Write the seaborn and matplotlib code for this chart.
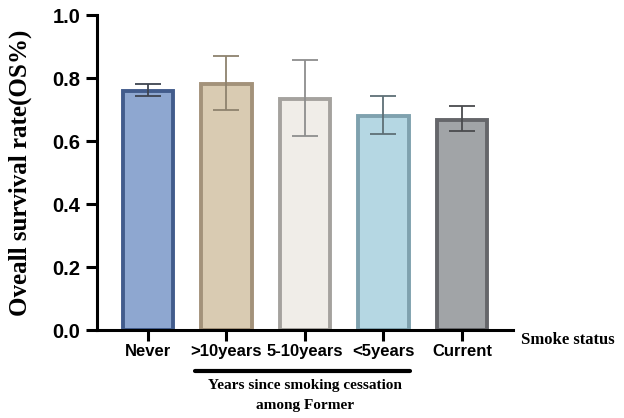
import matplotlib
matplotlib.use("Agg")
import matplotlib.pyplot as plt
import matplotlib.transforms as mtransforms
import seaborn as sns
import pandas as pd
import numpy as np

categories = ["Never", ">10years", "5-10years", "<5years", "Current"]
os_rate = [0.760, 0.782, 0.733, 0.678, 0.667]
ci_low = [0.742, 0.699, 0.617, 0.621, 0.632]
ci_high = [0.781, 0.870, 0.858, 0.742, 0.711]
yticks = [0.0, 0.2, 0.4, 0.6, 0.8, 1.0]

fill_colors = ["#8EA7D0", "#D9CBB2", "#F0EDE8", "#B5D7E3", "#A1A4A7"]
edge_colors = ["#425C8C", "#A3927A", "#A5A29E", "#7FA1AE", "#65666A"]
err_colors = ["#3E4450", "#8E826E", "#8E8E8E", "#5E6F76", "#4A4B4E"]

df = pd.DataFrame({"status": categories, "rate": os_rate})

sns.set_style("white")
plt.rcParams["font.family"] = ["Liberation Sans", "DejaVu Sans"]
plt.rcParams["text.color"] = "black"
plt.rcParams["axes.labelcolor"] = "black"
plt.rcParams["xtick.color"] = "black"
plt.rcParams["ytick.color"] = "black"

fig = plt.figure(figsize=(6.24, 4.18), dpi=100)
ax = fig.add_axes([0.1554, 0.2105, 0.6667, 0.7536])

sns.barplot(data=df, x="status", y="rate", hue="status", palette=fill_colors,
            order=categories, hue_order=categories, legend=False, width=0.64,
            ax=ax, saturation=1, zorder=2)

for patch, ec in zip(ax.patches, edge_colors):
    patch.set_edgecolor(ec)
    patch.set_linewidth(2.8)

xpos = np.arange(len(categories))
for i in range(len(categories)):
    lo = os_rate[i] - ci_low[i]
    hi = ci_high[i] - os_rate[i]
    ax.errorbar(xpos[i], os_rate[i], yerr=[[lo], [hi]], fmt="none",
                ecolor=err_colors[i], elinewidth=1.3, capsize=9.5,
                capthick=1.3, zorder=3)

ax.set_xlim(-0.65, len(categories) - 1 + 0.65)
ax.set_ylim(0, 1.0)
ax.set_yticks(yticks)
ax.set_yticklabels([f"{v:.1f}" for v in yticks])

for s in ["top", "right"]:
    ax.spines[s].set_visible(False)
for s in ["left", "bottom"]:
    ax.spines[s].set_linewidth(2.2)
    ax.spines[s].set_color("black")

ax.tick_params(axis="both", which="major", length=8, width=2.2, colors="black",
               direction="out", left=True, bottom=True)
ax.tick_params(axis="y", labelsize=14.5, pad=4)
ax.tick_params(axis="x", labelsize=12, pad=2)
for lab in ax.get_yticklabels() + ax.get_xticklabels():
    lab.set_fontweight("bold")
    lab.set_fontfamily(["Liberation Sans", "DejaVu Sans"])
    lab.set_color("black")

ax.set_xlabel("")
ax.set_ylabel("Oveall survival rate(OS%)", fontsize=18, fontweight="bold",
              color="black", fontfamily=["Liberation Serif", "DejaVu Serif"])
ax.yaxis.label.set_verticalalignment("center")
ax.yaxis.set_label_coords(-0.185, 0.5)

fig.text(0.910, 0.187, "Smoke status", ha="center", va="center",
         fontsize=12, fontweight="bold", color="black",
         fontfamily=["Liberation Serif", "DejaVu Serif"])

trans = mtransforms.blended_transform_factory(ax.transData, fig.transFigure)
ax.plot([xpos[1] - 0.40, xpos[3] + 0.34], [0.113, 0.113], transform=trans,
        color="black", linewidth=3, solid_capstyle="round", clip_on=False)
ax.text(xpos[2], 0.053, "Years since smoking cessation\namong Former",
        transform=trans, ha="center", va="center", fontsize=11,
        fontweight="bold", linespacing=1.7, color="black",
        fontfamily=["Liberation Serif", "DejaVu Serif"])

fig.savefig("out.png", dpi=100)
